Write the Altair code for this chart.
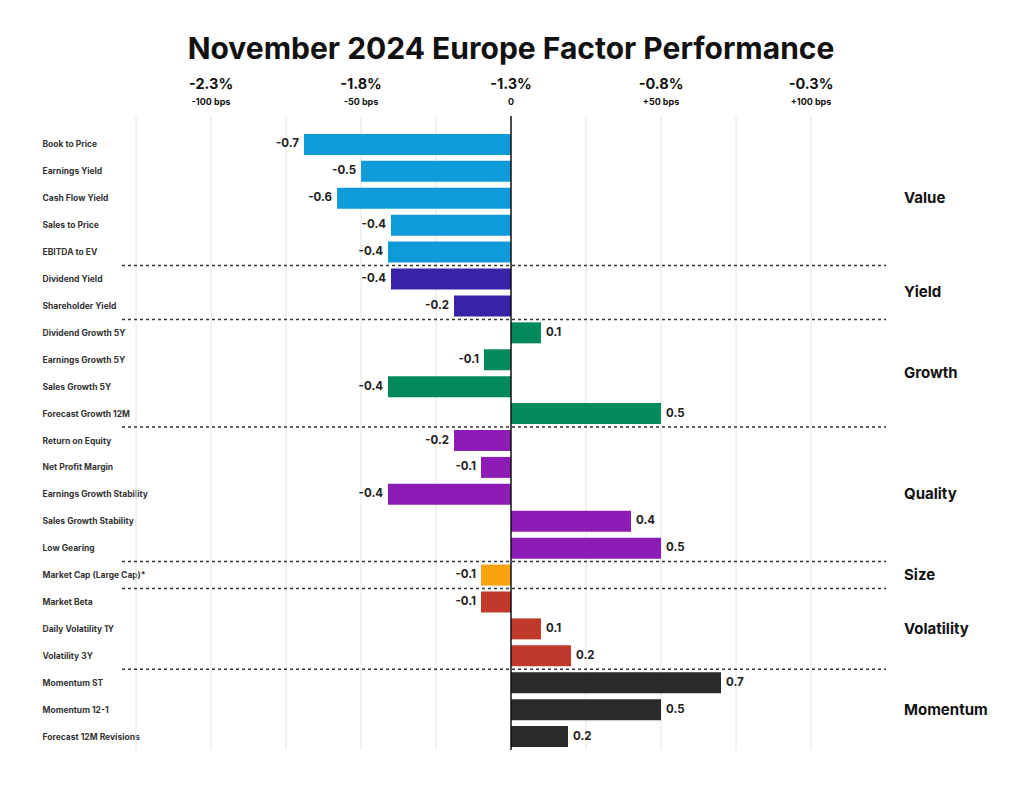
import altair as alt
import pandas as pd

factors = [
    "Book to Price", "Earnings Yield", "Cash Flow Yield", "Sales to Price", "EBITDA to EV",
    "Dividend Yield", "Shareholder Yield",
    "Dividend Growth 5Y", "Earnings Growth 5Y", "Sales Growth 5Y", "Forecast Growth 12M",
    "Return on Equity", "Net Profit Margin", "Earnings Growth Stability", "Sales Growth Stability", "Low Gearing",
    "Market Cap (Large Cap)*",
    "Market Beta", "Daily Volatility 1Y", "Volatility 3Y",
    "Momentum ST", "Momentum 12-1", "Forecast 12M Revisions",
]
groups = (["Value"] * 5 + ["Yield"] * 2 + ["Growth"] * 4 + ["Quality"] * 5
          + ["Size"] + ["Volatility"] * 3 + ["Momentum"] * 3)
values = [-0.69, -0.50, -0.58, -0.40, -0.41,
          -0.40, -0.19,
          0.10, -0.09, -0.41, 0.50,
          -0.19, -0.10, -0.41, 0.40, 0.50,
          -0.10,
          -0.10, 0.10, 0.20,
          0.70, 0.50, 0.19]

group_names = ["Value", "Yield", "Growth", "Quality", "Size", "Volatility", "Momentum"]
group_colors = ["#0f9bd7", "#3a22a8", "#038a5c", "#8d1bb5", "#f9a20f", "#c0392b", "#2a2a2a"]

grid_ticks = [-1.25, -1.0, -0.75, -0.5, -0.25, 0.25, 0.5, 0.75, 1.0]
top_pos = [-1.0, -0.5, 0.0, 0.5, 1.0]
top_pct_labels = ["-2.3%", "-1.8%", "-1.3%", "-0.8%", "-0.3%"]
top_bps_labels = ["-100 bps", "-50 bps", "0", "+50 bps", "+100 bps"]

W, H = 750, 619
N = len(factors)
FONT = "Inter"

df = pd.DataFrame({"factor": factors, "group": groups, "value": values})
df["label"] = [f"{v:.1f}" for v in values]
df["row"] = list(range(N))

# group separators and group label centres derived from data
bounds = [i for i in range(1, N) if groups[i] != groups[i - 1]]
sep_df = pd.DataFrame({"b": bounds})
gl = df.groupby("group", sort=False)["row"].agg(["min", "max"]).reset_index()
gl["center"] = (gl["min"] + gl["max"] + 1) / 2

top_df = pd.DataFrame({"pos": top_pos, "pct": top_pct_labels, "bps": top_bps_labels})

xscale = alt.Scale(domain=[-1.25, 1.25], nice=False, zero=False)
band = alt.Scale(domain=factors, paddingInner=0.22, paddingOuter=0.11)
qy = alt.Scale(domain=[0, N], reverse=True, nice=False, zero=False)

grid = alt.Chart(pd.DataFrame({"g": grid_ticks})).mark_rule(
    color="#e4e4e4", strokeWidth=1
).encode(x=alt.X("g:Q", scale=xscale, axis=None), y=alt.value(-15), y2=alt.value(H))

bars = alt.Chart(df).mark_bar().encode(
    y=alt.Y("factor:N", sort=factors, scale=band,
            axis=alt.Axis(title=None, labelAlign="left", labelPadding=94, ticks=False,
                          tickSize=0, domain=False, labelFont=FONT, labelFontSize=8.5,
                          labelFontWeight="bold", labelColor="#333", labelBaseline="middle")),
    x=alt.X("value:Q", scale=xscale, axis=None),
    x2=alt.datum(0),
    color=alt.Color("group:N", scale=alt.Scale(domain=group_names, range=group_colors), legend=None),
)

zero = alt.Chart(pd.DataFrame({"z": [0.0]})).mark_rule(color="#111", strokeWidth=1.5).encode(
    x=alt.X("z:Q", scale=xscale, axis=None), y=alt.value(-15), y2=alt.value(H)
)

neg = alt.Chart(df).transform_filter("datum.value < 0").mark_text(
    align="right", baseline="middle", dx=-5, font=FONT, fontSize=11.5, fontWeight="bold", color="#222"
).encode(y=alt.Y("factor:N", sort=factors, scale=band, axis=None),
         x=alt.X("value:Q", scale=xscale, axis=None), text="label:N")

pos = alt.Chart(df).transform_filter("datum.value >= 0").mark_text(
    align="left", baseline="middle", dx=5, font=FONT, fontSize=11.5, fontWeight="bold", color="#222"
).encode(y=alt.Y("factor:N", sort=factors, scale=band, axis=None),
         x=alt.X("value:Q", scale=xscale, axis=None), text="label:N")

seps = alt.Chart(sep_df).mark_rule(color="#333", strokeWidth=1.5, strokeDash=[3, 3]).encode(
    y=alt.Y("b:Q", scale=qy, axis=None), x=alt.value(-14), x2=alt.value(W)
)

glabels = alt.Chart(gl).mark_text(
    align="left", baseline="middle", font=FONT, fontSize=15, fontWeight="bold", color="#111"
).encode(y=alt.Y("center:Q", scale=qy, axis=None), x=alt.value(W + 18), text="group:N")

top_pct = alt.Chart(top_df).mark_text(
    align="center", baseline="middle", font=FONT, fontSize=14.5, fontWeight="bold", color="#111"
).encode(x=alt.X("pos:Q", scale=xscale, axis=None), y=alt.value(-46), text="pct:N")

top_bps = alt.Chart(top_df).mark_text(
    align="center", baseline="middle", font=FONT, fontSize=9, fontWeight="bold", color="#111"
).encode(x=alt.X("pos:Q", scale=xscale, axis=None), y=alt.value(-29), text="bps:N")

chart = alt.layer(grid, bars, zero, neg, pos, seps, glabels, top_pct, top_bps).resolve_scale(
    y="independent"
).properties(
    width=W, height=H,
    title=alt.TitleParams("November 2024 Europe Factor Performance", font=FONT, fontSize=30,
                          fontWeight="bold", anchor="middle", frame="group", color="#111",
                          offset=12),
    autosize="none",
    padding={"left": 128, "top": 123, "right": 110, "bottom": 30},
    background="white",
).configure_view(stroke=None)

chart.save("out.html", embed_options={"renderer": "svg", "actions": False})
